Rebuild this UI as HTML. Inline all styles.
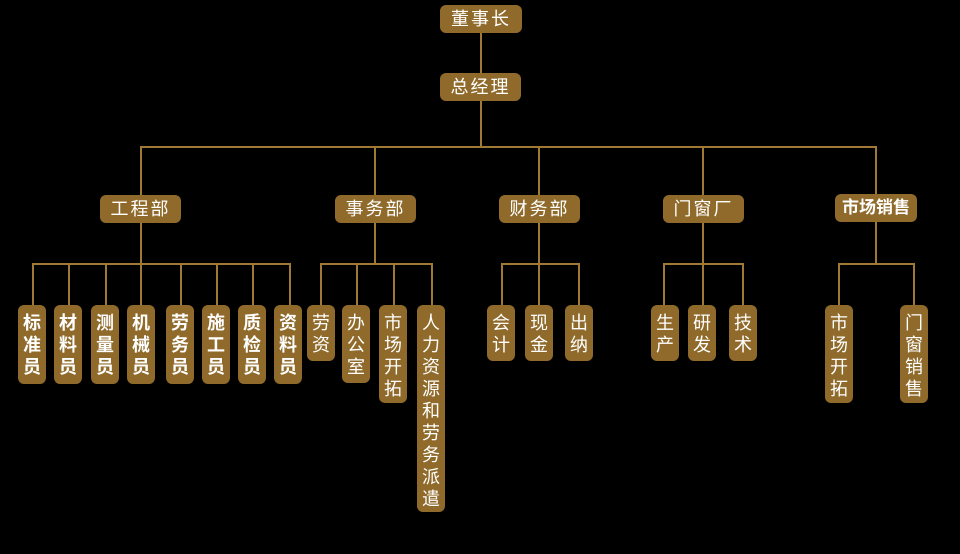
<!DOCTYPE html>
<html><head><meta charset="utf-8"><style>
body{margin:0;width:960px;height:554px;background:#000;position:relative;overflow:hidden;font-family:"Liberation Sans","Noto Sans CJK SC",sans-serif}
.l{position:absolute;background:#a07a35}
.b{position:absolute;background:#8f6a2a;border-radius:6px;color:#fff;text-align:center;font-size:17px;box-sizing:border-box}
.h{line-height:28px;font-size:18px;letter-spacing:2px}
.v{width:28px;padding-top:7px;line-height:22px;font-size:18px;font-weight:bold}
</style></head><body>
<div class="l" style="left:480px;top:33px;width:2px;height:114px"></div>
<div class="l" style="left:140px;top:146px;width:737px;height:2px"></div>
<div class="l" style="left:140px;top:146px;width:2px;height:50px"></div>
<div class="l" style="left:374px;top:146px;width:2px;height:50px"></div>
<div class="l" style="left:538px;top:146px;width:2px;height:50px"></div>
<div class="l" style="left:702px;top:146px;width:2px;height:50px"></div>
<div class="l" style="left:875px;top:146px;width:2px;height:50px"></div>
<div class="l" style="left:140px;top:222px;width:2px;height:42px"></div>
<div class="l" style="left:374px;top:222px;width:2px;height:42px"></div>
<div class="l" style="left:538px;top:222px;width:2px;height:42px"></div>
<div class="l" style="left:702px;top:222px;width:2px;height:42px"></div>
<div class="l" style="left:875px;top:222px;width:2px;height:42px"></div>
<div class="l" style="left:32px;top:263px;width:258px;height:2px"></div>
<div class="l" style="left:320px;top:263px;width:112px;height:2px"></div>
<div class="l" style="left:501px;top:263px;width:79px;height:2px"></div>
<div class="l" style="left:663px;top:263px;width:80px;height:2px"></div>
<div class="l" style="left:838px;top:263px;width:76px;height:2px"></div>
<div class="l" style="left:32px;top:263px;width:2px;height:42px"></div>
<div class="l" style="left:68px;top:263px;width:2px;height:42px"></div>
<div class="l" style="left:105px;top:263px;width:2px;height:42px"></div>
<div class="l" style="left:140px;top:263px;width:2px;height:42px"></div>
<div class="l" style="left:180px;top:263px;width:2px;height:42px"></div>
<div class="l" style="left:216px;top:263px;width:2px;height:42px"></div>
<div class="l" style="left:252px;top:263px;width:2px;height:42px"></div>
<div class="l" style="left:289px;top:263px;width:2px;height:42px"></div>
<div class="l" style="left:320px;top:263px;width:2px;height:42px"></div>
<div class="l" style="left:356px;top:263px;width:2px;height:42px"></div>
<div class="l" style="left:393px;top:263px;width:2px;height:42px"></div>
<div class="l" style="left:431px;top:263px;width:2px;height:42px"></div>
<div class="l" style="left:501px;top:263px;width:2px;height:42px"></div>
<div class="l" style="left:538px;top:263px;width:2px;height:42px"></div>
<div class="l" style="left:578px;top:263px;width:2px;height:42px"></div>
<div class="l" style="left:663px;top:263px;width:2px;height:42px"></div>
<div class="l" style="left:702px;top:263px;width:2px;height:42px"></div>
<div class="l" style="left:742px;top:263px;width:2px;height:42px"></div>
<div class="l" style="left:838px;top:263px;width:2px;height:42px"></div>
<div class="l" style="left:913px;top:263px;width:2px;height:42px"></div>

<div class="b h" style="left:440px;top:5px;width:82px;height:28px">董事长</div>
<div class="b h" style="left:440px;top:73px;width:81px;height:28px">总经理</div>
<div class="b h" style="left:100px;top:195px;width:81px;height:28px">工程部</div>
<div class="b h" style="left:335px;top:195px;width:81px;height:28px">事务部</div>
<div class="b h" style="left:499px;top:195px;width:81px;height:28px">财务部</div>
<div class="b h" style="left:663px;top:195px;width:81px;height:28px">门窗厂</div>
<div class="b h" style="left:835px;top:194px;width:82px;height:28px;letter-spacing:0;font-weight:bold;font-size:17px">市场销售</div>

<div class="b v" style="left:18px;top:305px;height:79px">标<br>准<br>员</div>
<div class="b v" style="left:54px;top:305px;height:79px">材<br>料<br>员</div>
<div class="b v" style="left:91px;top:305px;height:79px">测<br>量<br>员</div>
<div class="b v" style="left:127px;top:305px;height:79px">机<br>械<br>员</div>
<div class="b v" style="left:166px;top:305px;height:79px">劳<br>务<br>员</div>
<div class="b v" style="left:202px;top:305px;height:79px">施<br>工<br>员</div>
<div class="b v" style="left:238px;top:305px;height:79px">质<br>检<br>员</div>
<div class="b v" style="left:274px;top:305px;height:79px">资<br>料<br>员</div>
<div class="b v" style="left:307px;top:305px;height:56px;font-weight:normal">劳<br>资</div>
<div class="b v" style="left:342px;top:305px;height:78px;font-weight:normal">办<br>公<br>室</div>
<div class="b v" style="left:379px;top:305px;height:98px;font-weight:normal">市<br>场<br>开<br>拓</div>
<div class="b v" style="left:417px;top:305px;height:207px;font-weight:normal">人<br>力<br>资<br>源<br>和<br>劳<br>务<br>派<br>遣</div>
<div class="b v" style="left:487px;top:305px;height:56px;font-weight:normal">会<br>计</div>
<div class="b v" style="left:525px;top:305px;height:56px;font-weight:normal">现<br>金</div>
<div class="b v" style="left:565px;top:305px;height:56px;font-weight:normal">出<br>纳</div>
<div class="b v" style="left:651px;top:305px;height:56px;font-weight:normal">生<br>产</div>
<div class="b v" style="left:688px;top:305px;height:56px;font-weight:normal">研<br>发</div>
<div class="b v" style="left:729px;top:305px;height:56px;font-weight:normal">技<br>术</div>
<div class="b v" style="left:825px;top:305px;height:98px;font-weight:normal">市<br>场<br>开<br>拓</div>
<div class="b v" style="left:900px;top:305px;height:98px;font-weight:normal">门<br>窗<br>销<br>售</div>
</body></html>
